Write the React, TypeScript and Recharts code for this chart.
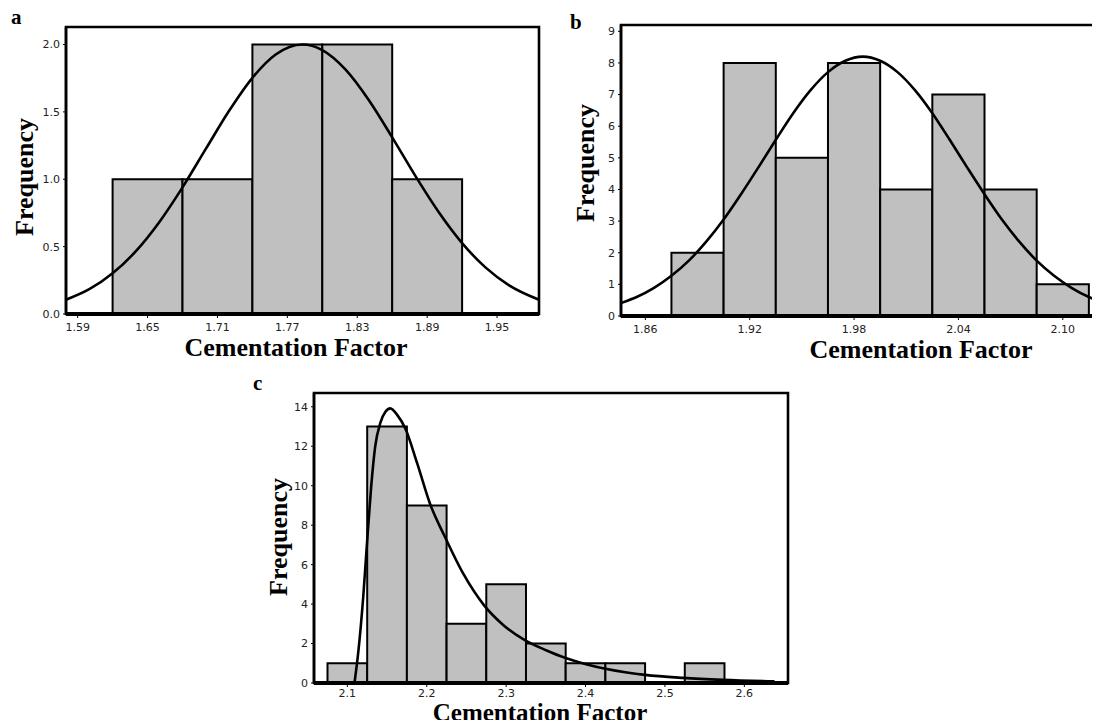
import {
  ComposedChart,
  Line,
  XAxis,
  YAxis,
  ReferenceArea,
} from 'recharts';

// panel a
const aEdges = [1.62, 1.68, 1.74, 1.8, 1.86, 1.92];
const aCounts = [1, 1, 2, 2, 1];
const aCurveX = [1.58, 1.6, 1.62, 1.64, 1.66, 1.68, 1.7, 1.72, 1.74, 1.76, 1.783, 1.8, 1.82, 1.84, 1.86, 1.88, 1.9, 1.92, 1.94, 1.96, 1.986];
const aCurveY = [0.106, 0.184, 0.302, 0.466, 0.681, 0.94, 1.225, 1.508, 1.753, 1.926, 2.0, 1.959, 1.814, 1.587, 1.311, 1.023, 0.755, 0.526, 0.346, 0.215, 0.106];
const aTicksX = [1.59, 1.65, 1.71, 1.77, 1.83, 1.89, 1.95];
const aTicksY = [0, 0.5, 1, 1.5, 2];

// panel b
const bEdges = [1.875, 1.905, 1.935, 1.965, 1.995, 2.025, 2.055, 2.085, 2.115];
const bCounts = [2, 8, 5, 8, 4, 7, 4, 1];
const bCurveX = [1.846, 1.855, 1.865, 1.875, 1.885, 1.895, 1.905, 1.915, 1.925, 1.935, 1.945, 1.955, 1.965, 1.975, 1.985, 1.995, 2.005, 2.015, 2.025, 2.035, 2.045, 2.055, 2.065, 2.075, 2.085, 2.095, 2.105, 2.115, 2.126];
const bCurveY = [0.41, 0.6, 0.89, 1.27, 1.75, 2.35, 3.05, 3.85, 4.7, 5.57, 6.41, 7.14, 7.71, 8.07, 8.2, 8.07, 7.71, 7.14, 6.41, 5.57, 4.7, 3.85, 3.05, 2.35, 1.75, 1.27, 0.89, 0.6, 0.4];
const bTicksX = [1.86, 1.92, 1.98, 2.04, 2.1];
const bTicksY = [0, 1, 2, 3, 4, 5, 6, 7, 8, 9];

// panel c
const cEdges = [2.075, 2.125, 2.175, 2.225, 2.275, 2.325, 2.375, 2.425, 2.475, 2.525, 2.575];
const cCounts = [1, 13, 9, 3, 5, 2, 1, 1, 0, 1];
const cCurveX = [2.109, 2.114, 2.12, 2.125, 2.13, 2.135, 2.142, 2.148, 2.154, 2.163, 2.173, 2.188, 2.204, 2.223, 2.246, 2.272, 2.297, 2.324, 2.351, 2.374, 2.402, 2.425, 2.452, 2.475, 2.523, 2.573, 2.638];
const cCurveY = [0, 1.65, 4.36, 7.23, 9.94, 11.97, 13.24, 13.75, 13.92, 13.58, 12.9, 11.13, 9.1, 7.4, 5.54, 3.95, 2.92, 2.16, 1.65, 1.28, 0.94, 0.72, 0.53, 0.41, 0.26, 0.16, 0.08];
const cTicksX = [2.1, 2.2, 2.3, 2.4, 2.5, 2.6];
const cTicksY = [0, 2, 4, 6, 8, 10, 12, 14];

const serif = "'Liberation Serif', 'Times New Roman', serif";
const sans = "'DejaVu Sans', Verdana, sans-serif";
const tickStyle = { fill: '#222', fontSize: 11, fontFamily: sans };

interface PanelProps {
  edges: number[];
  counts: number[];
  curveX: number[];
  curveY: number[];
  xDomain: [number, number];
  yDomain: [number, number];
  xTicks: number[];
  yTicks: number[];
  xDigits: number;
  yDigits: number;
  width: number;
  height: number;
  margin: { top: number; right: number; bottom: number; left: number };
  yAxisWidth: number;
  xTickGap: number;
}

function HistPanel(p: PanelProps) {
  const data = p.curveX.map((x, i) => ({ x, y: p.curveY[i] }));
  return (
    <ComposedChart width={p.width} height={p.height} data={data} margin={p.margin}>
      <XAxis
        dataKey="x"
        type="number"
        domain={p.xDomain}
        allowDataOverflow
        ticks={p.xTicks}
        interval={0}
        tickFormatter={(v: number) => v.toFixed(p.xDigits)}
        tick={tickStyle}
        tickSize={4}
        tickMargin={p.xTickGap}
        tickLine={{ stroke: '#000' }}
        axisLine={{ stroke: '#000', strokeWidth: 4 }}
        height={20}
      />
      <YAxis
        type="number"
        domain={p.yDomain}
        allowDataOverflow
        ticks={p.yTicks}
        interval={0}
        tickFormatter={(v: number) => v.toFixed(p.yDigits)}
        tick={tickStyle}
        tickSize={3}
        tickMargin={3}
        tickLine={{ stroke: '#000' }}
        axisLine={{ stroke: '#000', strokeWidth: 2.5 }}
        width={p.yAxisWidth}
      />
      {/* plot frame */}
      <ReferenceArea
        x1={p.xDomain[0]}
        x2={p.xDomain[1]}
        y1={p.yDomain[0]}
        y2={p.yDomain[1]}
        fill="none"
        stroke="#000"
        strokeWidth={2.6}
        strokeOpacity={1}
      />
      {p.counts.map((c, i) =>
        c > 0 ? (
          <ReferenceArea
            key={i}
            x1={p.edges[i]}
            x2={p.edges[i + 1]}
            y1={0}
            y2={c}
            fill="#c0c0c0"
            fillOpacity={1}
            stroke="#000"
            strokeWidth={2}
            strokeOpacity={1}
          />
        ) : null
      )}
      <Line
        type="monotone"
        dataKey="y"
        stroke="#000"
        strokeWidth={2.6}
        dot={false}
        activeDot={false}
        isAnimationActive={false}
      />
    </ComposedChart>
  );
}

function Letter({ text, left, top }: { text: string; left: number; top: number }) {
  return (
    <div
      style={{
        position: 'absolute',
        left,
        top,
        fontFamily: serif,
        fontWeight: 700,
        fontSize: 21,
        lineHeight: '21px',
      }}
    >
      {text}
    </div>
  );
}

function YTitle({ cx, cy }: { cx: number; cy: number }) {
  return (
    <div
      style={{
        position: 'absolute',
        left: cx,
        top: cy,
        transform: 'translate(-50%, -50%) rotate(-90deg)',
        fontFamily: serif,
        fontWeight: 700,
        fontSize: 26,
        lineHeight: '26px',
        whiteSpace: 'nowrap',
      }}
    >
      Frequency
    </div>
  );
}

function XTitle({ cx, top, size = 26 }: { cx: number; top: number; size?: number }) {
  return (
    <div
      style={{
        position: 'absolute',
        left: cx,
        top,
        transform: 'translateX(-50%)',
        fontFamily: serif,
        fontWeight: 700,
        fontSize: size,
        lineHeight: '20px',
        whiteSpace: 'nowrap',
      }}
    >
      Cementation Factor
    </div>
  );
}

export default function App() {
  return (
    <div
      style={{
        position: 'relative',
        width: 1100,
        height: 728,
        margin: -8,
        overflow: 'hidden',
        background: '#fff',
      }}
    >
      <div style={{ position: 'absolute', left: 0, top: 0 }}>
        <HistPanel
          edges={aEdges}
          counts={aCounts}
          curveX={aCurveX}
          curveY={aCurveY}
          xDomain={[1.58, 1.986]}
          yDomain={[0, 2.13]}
          xTicks={aTicksX}
          yTicks={aTicksY}
          xDigits={2}
          yDigits={1}
          width={560}
          height={345}
          margin={{ top: 27, right: 21, bottom: 11, left: 0 }}
          yAxisWidth={66}
          xTickGap={5}
        />
      </div>
      <div style={{ position: 'absolute', left: 560, top: 0 }}>
        <HistPanel
          edges={bEdges}
          counts={bCounts}
          curveX={bCurveX}
          curveY={bCurveY}
          xDomain={[1.846, 2.126]}
          yDomain={[0, 9.2]}
          xTicks={bTicksX}
          yTicks={bTicksY}
          xDigits={2}
          yDigits={0}
          width={570}
          height={345}
          margin={{ top: 25, right: 22, bottom: 9, left: 0 }}
          yAxisWidth={61}
          xTickGap={5}
        />
      </div>
      <div style={{ position: 'absolute', left: 250, top: 360 }}>
        <HistPanel
          edges={cEdges}
          counts={cCounts}
          curveX={cCurveX}
          curveY={cCurveY}
          xDomain={[2.058, 2.655]}
          yDomain={[0, 14.7]}
          xTicks={cTicksX}
          yTicks={cTicksY}
          xDigits={1}
          yDigits={0}
          width={560}
          height={368}
          margin={{ top: 33, right: 22, bottom: 25, left: 0 }}
          yAxisWidth={64}
          xTickGap={2}
        />
      </div>
      <Letter text="a" left={11} top={7} />
      <Letter text="b" left={570} top={12} />
      <Letter text="c" left={253} top={373} />
      <YTitle cx={25} cy={177} />
      <YTitle cx={586} cy={163} />
      <YTitle cx={279} cy={537} />
      <XTitle cx={296} top={338} />
      <XTitle cx={921} top={340} />
      <XTitle cx={540} top={703} size={25} />
    </div>
  );
}
